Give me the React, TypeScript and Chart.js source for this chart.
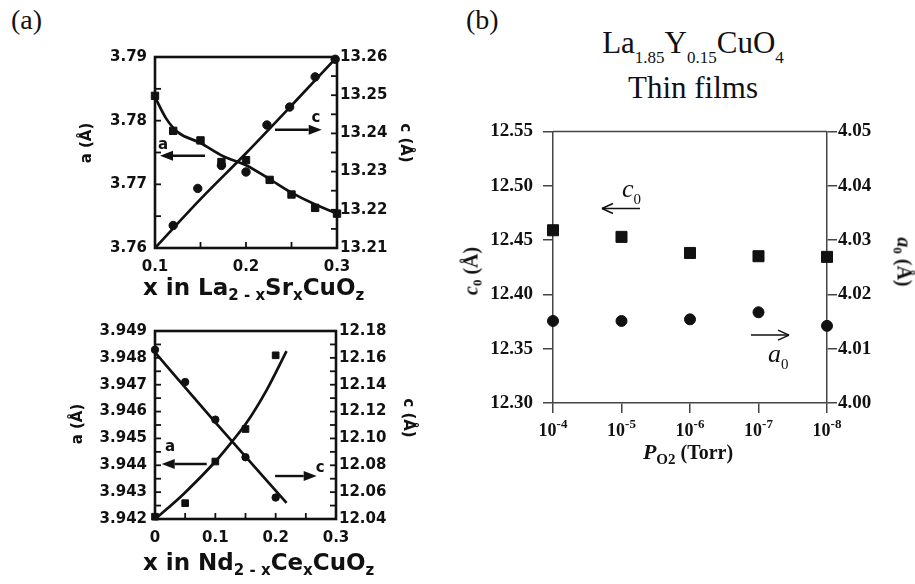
import React, { useEffect, useRef } from 'react';
import { Chart, registerables } from 'chart.js';

Chart.register(...registerables);

// ---------- (a) upper: x in La(2-x)Sr(x)CuO(z) ----------
const laSrXA = [0.1, 0.12, 0.15, 0.173, 0.2, 0.226, 0.25, 0.276, 0.3];
const laSrA = [3.7839, 3.7784, 3.7769, 3.7735, 3.7738, 3.7707, 3.7684, 3.7663, 3.7654];
const laSrXC = [0.12, 0.147, 0.173, 0.2, 0.223, 0.248, 0.276, 0.298];
const laSrC = [13.2159, 13.2256, 13.2316, 13.2299, 13.2422, 13.2469, 13.2548, 13.2594];
const laSrFitXA = [0.1, 0.112, 0.125, 0.15, 0.175, 0.2, 0.225, 0.25, 0.275, 0.3];
const laSrFitA = [3.7837, 3.7804, 3.7782, 3.7765, 3.7744, 3.773, 3.7709, 3.7687, 3.7669, 3.7654];
const laSrFitXC = [0.1, 0.15, 0.2, 0.25, 0.3];
const laSrFitC = [13.21, 13.2228, 13.2348, 13.2473, 13.26];
const laSrXTicks = [0.1, 0.2, 0.3];
const laSrATicks = [3.76, 3.77, 3.78, 3.79];
const laSrCTicks = [13.21, 13.22, 13.23, 13.24, 13.25, 13.26];

// ---------- (a) lower: x in Nd(2-x)Ce(x)CuO(z) ----------
const ndCeX = [0, 0.05, 0.1, 0.15, 0.2];
const ndCeA = [3.9483, 3.9471, 3.9457, 3.9443, 3.9428];
const ndCeC = [12.0417, 12.0518, 12.0828, 12.107, 12.1619];
const ndCeFitXA = [0, 0.1, 0.218];
const ndCeFitA = [3.9482, 3.9456, 3.9426];
const ndCeFitXC = [0, 0.047, 0.1, 0.127, 0.152, 0.185, 0.218];
const ndCeFitC = [12.0398, 12.0585, 12.0828, 12.0973, 12.1118, 12.136, 12.165];
const ndCeXTicks = [0, 0.1, 0.2, 0.3];
const ndCeATicks = [3.942, 3.943, 3.944, 3.945, 3.946, 3.947, 3.948, 3.949];
const ndCeCTicks = [12.04, 12.06, 12.08, 12.1, 12.12, 12.14, 12.16, 12.18];

// ---------- (b) La1.85Y0.15CuO4 thin films vs oxygen pressure ----------
const pO2Exp = [-4, -5, -6, -7, -8];
const filmC0 = [12.459, 12.4529, 12.4381, 12.4351, 12.4345];
const filmA0 = [4.0151, 4.0151, 4.0154, 4.0167, 4.0142];
const c0Ticks = [12.3, 12.35, 12.4, 12.45, 12.5, 12.55];
const a0Ticks = [4.0, 4.01, 4.02, 4.03, 4.04, 4.05];

const INK = '#111';
const AXIS_GRAY = '#444';
const SANS = 'DejaVu Sans';
const SERIF = 'Liberation Serif';

const pts = (xs: number[], ys: number[]) => xs.map((x, i) => ({ x, y: ys[i] }));
const fixedTicks = (values: number[]) => (scale: any) => {
  scale.ticks = values.map((v) => ({ value: v }));
};
const withMidpoints = (vals: number[]) => {
  const out: number[] = [];
  vals.forEach((v, i) => {
    out.push(v);
    if (i < vals.length - 1) out.push((v + vals[i + 1]) / 2);
  });
  return out;
};

type Note = { text: string; tx: number; ty: number; x1: number; x2: number; ay: number };

// arrow annotations, in (x, left-axis) data coordinates
const laSrNotes: Note[] = [
  { text: 'a', tx: 0.1088, ty: 3.7761, x1: 0.155, x2: 0.1055, ay: 3.7745 },
  { text: 'c', tx: 0.2769, ty: 3.7804, x1: 0.2319, x2: 0.2832, ay: 3.77857 },
];
const ndCeNotes: Note[] = [
  { text: 'a', tx: 0.0249, ty: 3.94468, x1: 0.0857, x2: 0.0111, ay: 3.94405 },
  { text: 'c', tx: 0.2736, ty: 3.9439, x1: 0.199, x2: 0.268, ay: 3.9436 },
];

const segment = (ctx: any, a: number, b: number, c: number, d: number) => {
  ctx.beginPath();
  ctx.moveTo(a, b);
  ctx.lineTo(c, d);
  ctx.stroke();
};

// box frame with inward ticks, plus the a / c arrows
const frameAndNotes = (notes: Note[]) => ({
  id: 'frameAndNotes',
  afterDraw(chart: any) {
    const { ctx, chartArea: ca, scales } = chart;
    const { x, y, y1 } = scales;
    ctx.save();
    ctx.strokeStyle = INK;
    ctx.fillStyle = INK;
    ctx.lineWidth = 1.8;
    const len = 6;
    withMidpoints(x.ticks.map((t: any) => t.value)).forEach((v) => {
      const p = x.getPixelForValue(v);
      segment(ctx, p, ca.bottom, p, ca.bottom - len);
    });
    withMidpoints(y.ticks.map((t: any) => t.value)).forEach((v) => {
      const p = y.getPixelForValue(v);
      segment(ctx, ca.left, p, ca.left + len, p);
    });
    withMidpoints(y1.ticks.map((t: any) => t.value)).forEach((v) => {
      const p = y1.getPixelForValue(v);
      segment(ctx, ca.right, p, ca.right - len, p);
    });
    ctx.lineWidth = 2.6;
    ctx.strokeRect(ca.left, ca.top, ca.right - ca.left, ca.bottom - ca.top);

    ctx.font = `700 15px "${SANS}"`;
    ctx.textAlign = 'center';
    ctx.textBaseline = 'middle';
    notes.forEach((n) => {
      ctx.fillText(n.text, x.getPixelForValue(n.tx), y.getPixelForValue(n.ty));
      const py = y.getPixelForValue(n.ay);
      const p1 = x.getPixelForValue(n.x1);
      const p2 = x.getPixelForValue(n.x2);
      const dir = Math.sign(p2 - p1);
      const head = 13;
      ctx.lineWidth = 2.4;
      segment(ctx, p1, py, p2 - dir * head, py);
      ctx.beginPath();
      ctx.moveTo(p2, py);
      ctx.lineTo(p2 - dir * head, py - 5);
      ctx.lineTo(p2 - dir * head, py + 5);
      ctx.closePath();
      ctx.fill();
    });
    ctx.restore();
  },
});

const markerSet = (data: any[], style: string, radius: number, axis: string) => ({
  data,
  yAxisID: axis,
  showLine: false,
  pointStyle: style,
  pointRadius: radius,
  pointBackgroundColor: INK,
  pointBorderColor: INK,
  pointBorderWidth: 1,
  clip: false,
});

const curveSet = (data: any[], axis: string) => ({
  data,
  yAxisID: axis,
  showLine: true,
  pointRadius: 0,
  borderColor: INK,
  borderWidth: 2.7,
  cubicInterpolationMode: 'monotone',
  fill: false,
  clip: false,
});

const sansTicks = { font: { family: SANS, size: 15, weight: 700 }, color: INK };
const hiddenGrid = { display: false, drawTicks: false, tickLength: 0 };

function latticeConfig(p: any) {
  return {
    type: 'scatter',
    data: { datasets: p.datasets },
    options: {
      animation: false,
      responsive: false,
      maintainAspectRatio: false,
      events: [],
      layout: { padding: { top: p.padTop, left: 0, right: 0, bottom: 0 } },
      plugins: { legend: { display: false }, tooltip: { enabled: false } },
      scales: {
        x: {
          type: 'linear',
          min: p.xMin,
          max: p.xMax,
          afterBuildTicks: fixedTicks(p.xTicks),
          afterFit: (s: any) => { s.height = p.xH; },
          grid: hiddenGrid,
          border: { display: false },
          ticks: { ...sansTicks, padding: 10, maxRotation: 0, callback: (v: number) => (v === 0 ? '0' : v.toFixed(1)) },
        },
        y: {
          type: 'linear',
          position: 'left',
          min: p.aMin,
          max: p.aMax,
          afterBuildTicks: fixedTicks(p.aTicks),
          afterFit: (s: any) => { s.width = p.leftW; },
          grid: hiddenGrid,
          border: { display: false },
          ticks: { ...sansTicks, padding: 8, callback: (v: number) => v.toFixed(p.aDigits) },
        },
        y1: {
          type: 'linear',
          position: 'right',
          min: p.cMin,
          max: p.cMax,
          afterBuildTicks: fixedTicks(p.cTicks),
          afterFit: (s: any) => { s.width = p.rightW; },
          grid: hiddenGrid,
          border: { display: false },
          ticks: { ...sansTicks, padding: 3, callback: (v: number) => v.toFixed(2) },
        },
      },
    },
    plugins: [frameAndNotes(p.notes)],
  };
}

const laSrConfig = () =>
  latticeConfig({
    datasets: [
      curveSet(pts(laSrFitXA, laSrFitA), 'y'),
      curveSet(pts(laSrFitXC, laSrFitC), 'y1'),
      markerSet(pts(laSrXA, laSrA), 'rect', 5.2, 'y'),
      markerSet(pts(laSrXC, laSrC), 'circle', 4.2, 'y1'),
    ],
    xMin: 0.1, xMax: 0.3, xTicks: laSrXTicks, xH: 40,
    aMin: 3.76, aMax: 3.79, aTicks: laSrATicks, aDigits: 2, leftW: 80,
    cMin: 13.21, cMax: 13.26, cTicks: laSrCTicks, rightW: 68,
    padTop: 12,
    notes: laSrNotes,
  });

const ndCeConfig = () =>
  latticeConfig({
    datasets: [
      curveSet(pts(ndCeFitXA, ndCeFitA), 'y'),
      curveSet(pts(ndCeFitXC, ndCeFitC), 'y1'),
      markerSet(pts(ndCeX, ndCeA), 'circle', 3.7, 'y'),
      markerSet(pts(ndCeX, ndCeC), 'rect', 4.7, 'y1'),
    ],
    xMin: 0, xMax: 0.3, xTicks: ndCeXTicks, xH: 40,
    aMin: 3.942, aMax: 3.949, aTicks: ndCeATicks, aDigits: 3, leftW: 80,
    cMin: 12.04, cMax: 12.18, cTicks: ndCeCTicks, rightW: 69,
    padTop: 12,
    notes: ndCeNotes,
  });

type FilmNote = { sym: string; tx: number; ty: number; x1: number; x2: number; ay: number };
const filmNotes: FilmNote[] = [
  { sym: 'c', tx: -5.007, ty: 12.4893, x1: -5.27, x2: -4.715, ay: 12.479 },
  { sym: 'a', tx: -7.139, ty: 12.3377, x1: -6.89, x2: -7.445, ay: 12.3625 },
];

// top frame line, 10^n tick labels and the c0 / a0 arrows
const filmPlugin = {
  id: 'filmFrame',
  afterDraw(chart: any) {
    const { ctx, chartArea: ca, scales } = chart;
    const { x, y } = scales;
    ctx.save();
    ctx.strokeStyle = AXIS_GRAY;
    ctx.lineWidth = 1.5;
    segment(ctx, ca.left, ca.top, ca.right, ca.top);

    ctx.fillStyle = INK;
    ctx.textAlign = 'left';
    ctx.textBaseline = 'alphabetic';
    const big = `700 18px "${SERIF}"`;
    const small = `700 13px "${SERIF}"`;
    x.ticks.forEach((t: any) => {
      const px = x.getPixelForValue(t.value);
      const base = '10';
      const sup = String(t.value);
      ctx.font = big;
      const w1 = ctx.measureText(base).width;
      ctx.font = small;
      const w2 = ctx.measureText(sup).width;
      const start = px - (w1 + w2) / 2;
      ctx.font = big;
      ctx.fillText(base, start, ca.bottom + 33);
      ctx.font = small;
      ctx.fillText(sup, start + w1, ca.bottom + 25);
    });

    ctx.strokeStyle = INK;
    ctx.lineWidth = 1.5;
    filmNotes.forEach((n) => {
      const tx = x.getPixelForValue(n.tx);
      const ty = y.getPixelForValue(n.ty);
      ctx.font = `italic 400 26px "${SERIF}"`;
      ctx.fillText(n.sym, tx, ty);
      const w = ctx.measureText(n.sym).width;
      ctx.font = `400 15px "${SERIF}"`;
      ctx.fillText('0', tx + w, ty + 7);
      const py = y.getPixelForValue(n.ay);
      const p1 = x.getPixelForValue(n.x1);
      const p2 = x.getPixelForValue(n.x2);
      const dir = Math.sign(p2 - p1);
      segment(ctx, p1, py, p2, py);
      segment(ctx, p2, py, p2 - dir * 11, py - 5);
      segment(ctx, p2, py, p2 - dir * 11, py + 5);
    });
    ctx.restore();
  },
};

const serifTicks = { font: { family: SERIF, size: 19, weight: 700 }, color: INK };
const filmGrid = { drawOnChartArea: false, tickLength: 10, color: AXIS_GRAY, lineWidth: 1.5 };
const filmBorder = { color: AXIS_GRAY, width: 1.5 };

const filmConfig = () => ({
  type: 'scatter',
  data: {
    datasets: [
      markerSet(pts(pO2Exp, filmC0), 'rect', 7.8, 'y'),
      markerSet(pts(pO2Exp, filmA0), 'circle', 5.5, 'y1'),
    ],
  },
  options: {
    animation: false,
    responsive: false,
    maintainAspectRatio: false,
    events: [],
    layout: { padding: { top: 21, left: 0, right: 0, bottom: 0 } },
    plugins: { legend: { display: false }, tooltip: { enabled: false } },
    scales: {
      x: {
        type: 'linear',
        min: -8,
        max: -4,
        reverse: true,
        afterBuildTicks: fixedTicks(pO2Exp),
        afterFit: (s: any) => { s.height = 40; },
        grid: filmGrid,
        border: filmBorder,
        ticks: { display: false },
      },
      y: {
        type: 'linear',
        position: 'left',
        min: 12.3,
        max: 12.55,
        afterBuildTicks: fixedTicks(c0Ticks),
        afterFit: (s: any) => { s.width = 83; },
        grid: filmGrid,
        border: filmBorder,
        ticks: { ...serifTicks, padding: 10, callback: (v: number) => v.toFixed(2) },
      },
      y1: {
        type: 'linear',
        position: 'right',
        min: 4.0,
        max: 4.05,
        afterBuildTicks: fixedTicks(a0Ticks),
        afterFit: (s: any) => { s.width = 83; },
        grid: filmGrid,
        border: filmBorder,
        ticks: { ...serifTicks, padding: 1, callback: (v: number) => v.toFixed(2) },
      },
    },
  },
  plugins: [filmPlugin],
});

function ChartCanvas({ make, left, top, width, height }: any) {
  const ref = useRef<HTMLCanvasElement | null>(null);
  useEffect(() => {
    const chart = new Chart(ref.current as HTMLCanvasElement, make());
    return () => chart.destroy();
  }, [make]);
  return (
    <canvas
      ref={ref}
      width={width}
      height={height}
      style={{ position: 'absolute', left, top, width, height }}
    />
  );
}

const abs = (left: number, top: number, extra: any = {}) => ({
  position: 'absolute' as const,
  left,
  top,
  whiteSpace: 'nowrap' as const,
  lineHeight: 1,
  color: INK,
  ...extra,
});

const Rotated = ({ cx, cy, deg, style, children }: any) => (
  <div
    style={{
      position: 'absolute',
      left: cx,
      top: cy,
      transform: `translate(-50%, -50%) rotate(${deg}deg)`,
      whiteSpace: 'nowrap',
      lineHeight: 1,
      color: INK,
      ...style,
    }}
  >
    {children}
  </div>
);

const sansBold = { fontFamily: `"${SANS}"`, fontWeight: 700 };
const serifBold = { fontFamily: `"${SERIF}"`, fontWeight: 700 };
const subSans = { fontSize: 15, verticalAlign: '-5px' };

export default function App() {
  return (
    <div style={{ position: 'absolute', left: 0, top: 0, width: 915, height: 584, background: '#fff', overflow: 'hidden' }}>
      <div style={abs(11, 6, { fontFamily: `"${SERIF}"`, fontSize: 28 })}>(a)</div>
      <div style={abs(466, 6, { fontFamily: `"${SERIF}"`, fontSize: 28 })}>(b)</div>

      <ChartCanvas make={laSrConfig} left={75} top={40} width={330} height={248} />
      <ChartCanvas make={ndCeConfig} left={75} top={314} width={330} height={245} />
      <ChartCanvas make={filmConfig} left={470} top={110} width={440} height={333} />

      {/* upper panel titles */}
      <div style={abs(143, 276, { ...sansBold, fontSize: 23 })}>
        x in La<span style={subSans}>2 - x</span>Sr<span style={subSans}>x</span>CuO<span style={subSans}>z</span>
      </div>
      <Rotated cx={86} cy={143} deg={-90} style={{ ...sansBold, fontSize: 15 }}>a (Å)</Rotated>
      <Rotated cx={405} cy={143} deg={90} style={{ ...sansBold, fontSize: 15 }}>c (Å)</Rotated>

      {/* lower panel titles */}
      <div style={abs(143, 551, { ...sansBold, fontSize: 23 })}>
        x in Nd<span style={subSans}>2 - x</span>Ce<span style={subSans}>x</span>CuO<span style={subSans}>z</span>
      </div>
      <Rotated cx={77} cy={424} deg={-90} style={{ ...sansBold, fontSize: 15 }}>a (Å)</Rotated>
      <Rotated cx={408} cy={418} deg={90} style={{ ...sansBold, fontSize: 15 }}>c (Å)</Rotated>

      {/* film panel titles */}
      <div style={abs(543, 27, { fontFamily: `"${SERIF}"`, fontSize: 31, width: 300, textAlign: 'center' })}>
        La<span style={{ fontSize: 17, verticalAlign: '-10px' }}>1.85</span>Y
        <span style={{ fontSize: 17, verticalAlign: '-10px' }}>0.15</span>CuO
        <span style={{ fontSize: 17, verticalAlign: '-10px' }}>4</span>
      </div>
      <div style={abs(543, 72, { fontFamily: `"${SERIF}"`, fontSize: 31, width: 300, textAlign: 'center' })}>Thin films</div>

      <div style={abs(588, 441, { ...serifBold, fontSize: 20, width: 200, textAlign: 'center' })}>
        <span style={{ fontStyle: 'italic', fontSize: 22 }}>P</span>
        <span style={{ fontSize: 15, verticalAlign: '-5px' }}>O2</span> (Torr)
      </div>
      <Rotated cx={472} cy={271} deg={-90} style={{ ...serifBold, fontSize: 20 }}>
        <span style={{ fontStyle: 'italic' }}>c</span>
        <span style={{ fontSize: 13, verticalAlign: '-4px' }}>0</span> (Å)
      </Rotated>
      <Rotated cx={903} cy={262} deg={90} style={{ ...serifBold, fontSize: 20 }}>
        <span style={{ fontStyle: 'italic' }}>a</span>
        <span style={{ fontSize: 13, verticalAlign: '-4px' }}>0</span> (Å)
      </Rotated>
    </div>
  );
}
